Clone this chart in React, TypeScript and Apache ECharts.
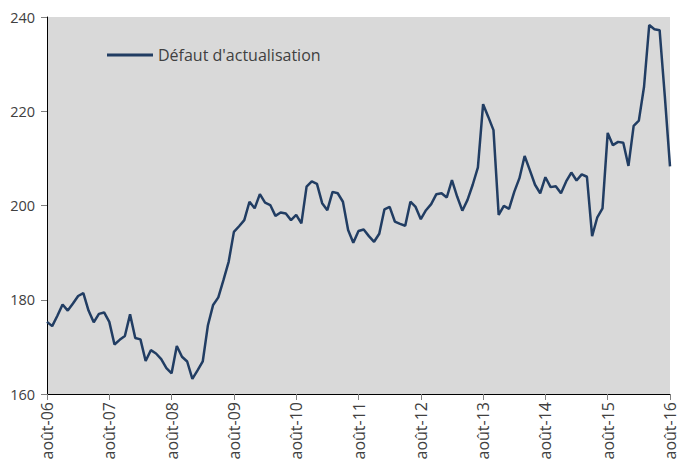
import React, { useEffect, useRef } from "react";
import * as echarts from "echarts";

const monthNames = ["août", "sept", "oct", "nov", "déc", "janv", "févr", "mars", "avr", "mai", "juin", "juil"];
const startYear = 2006;

const values = [
  175.3, 174.4, 176.6, 179.0, 177.7, 179.2, 180.8, 181.4, 177.7, 175.2, 177.0, 177.3,
  175.3, 170.5, 171.5, 172.3, 176.9, 171.9, 171.6, 167.0, 169.3, 168.6, 167.4, 165.5,
  164.4, 170.2, 167.9, 166.9, 163.2, 165.0, 166.9, 174.6, 178.9, 180.5, 184.2, 188.1,
  194.4, 195.6, 196.9, 200.8, 199.4, 202.4, 200.6, 200.1, 197.8, 198.5, 198.3, 196.9,
  198.0, 196.2, 204.0, 205.1, 204.6, 200.5, 199.0, 202.9, 202.6, 200.8, 194.8, 192.1,
  194.6, 194.9, 193.5, 192.3, 194.0, 199.2, 199.7, 196.6, 196.1, 195.7, 200.8, 199.7,
  197.1, 199.0, 200.3, 202.4, 202.6, 201.7, 205.4, 201.9, 198.9, 201.2, 204.4, 208.1,
  221.5, 218.8, 216.0, 198.0, 199.9, 199.3, 202.9, 205.8, 210.5, 207.5, 204.4, 202.6,
  206.0, 203.9, 204.1, 202.6, 205.1, 207.0, 205.3, 206.6, 206.1, 193.5, 197.5, 199.4,
  215.4, 212.8, 213.5, 213.3, 208.4, 216.9, 218.0, 225.2, 238.3, 237.4, 237.2, 223.2,
  208.3,
];

const categories = values.map((_, i) => {
  const monthsFromJan = 7 + i;
  const year = startYear + Math.floor(monthsFromJan / 12);
  return `${monthNames[i % 12]}-${String(year % 100).padStart(2, "0")}`;
});

const seriesName = "Défaut d'actualisation";
const yMin = 160;
const yMax = 240;
const yStep = 20;

export default function App() {
  const ref = useRef<HTMLDivElement>(null);
  useEffect(() => {
    if (!ref.current) return;
    const chart = echarts.init(ref.current, null, { renderer: "svg" });
    const font = "Open Sans";
    const lineColor = "#213d63";
    chart.setOption({
      animation: false,
      backgroundColor: "#ffffff",
      textStyle: { fontFamily: font },
      grid: {
        left: 47,
        right: 2,
        top: 17,
        bottom: 70,
        show: true,
        backgroundColor: "#d9d9d9",
        borderWidth: 0,
      },
      legend: {
        left: 102,
        top: 42,
        itemWidth: 46,
        itemHeight: 3,
        icon: "rect",
        data: [seriesName],
        textStyle: { fontSize: 16, lineHeight: 14, color: "#404040", fontFamily: font },
      },
      xAxis: {
        type: "category",
        data: categories,
        boundaryGap: false,
        axisLine: { show: true, lineStyle: { color: "#000000", width: 1 } },
        axisTick: { show: true, interval: 11, length: 6, lineStyle: { color: "#808080" } },
        axisLabel: {
          interval: 11,
          rotate: 90,
          fontSize: 16,
          color: "#404040",
          fontFamily: font,
          margin: 8,
        },
        splitLine: { show: false },
      },
      yAxis: {
        type: "value",
        min: yMin,
        max: yMax,
        interval: yStep,
        axisLine: { show: true, lineStyle: { color: "#000000", width: 1 } },
        axisTick: { show: true, length: 6, lineStyle: { color: "#808080" } },
        axisLabel: { fontSize: 14.5, color: "#404040", fontFamily: font, margin: 12 },
        splitLine: { show: false },
      },
      series: [
        {
          name: seriesName,
          type: "line",
          data: values,
          symbol: "none",
          showSymbol: false,
          lineStyle: { color: lineColor, width: 2.5 },
          itemStyle: { color: lineColor },
        },
      ],
    });
    return () => chart.dispose();
  }, []);
  return <div ref={ref} style={{ width: 678, height: 464, position: "absolute", left: 0, top: 0 }} />;
}
